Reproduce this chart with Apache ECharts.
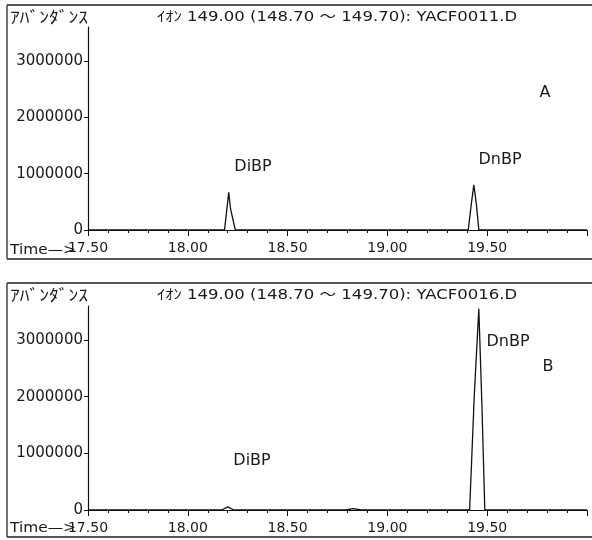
<!DOCTYPE html>
<html>
<head>
<meta charset="utf-8">
<script src="https://cdn.jsdelivr.net/npm/echarts@6/dist/echarts.min.js"></script>
<style>
  html, body { margin: 0; padding: 0; background: #fff; }
  #chart { width: 592px; height: 540px; }
</style>
</head>
<body>
<div id="chart"></div>
<script>
// Panel A: ion 149 trace of YACF0011.D
const timesA = [17.50, 18.184, 18.196, 18.205, 18.214, 18.238, 19.405, 19.42, 19.433, 19.446, 19.458, 20.00];
const abundA = [0, 0, 380000, 670000, 380000, 0, 0, 450000, 800000, 450000, 0, 0];

// Panel B: ion 149 trace of YACF0016.D
const timesB = [17.50, 18.17, 18.20, 18.23, 18.79, 18.83, 18.87, 19.412, 19.435, 19.458, 19.474, 19.488, 20.00];
const abundB = [0, 0, 55000, 0, 0, 25000, 0, 0, 2000000, 3550000, 1800000, 0, 0];

const xTicks = ['17.50', '18.00', '18.50', '19.00', '19.50'];
const yTicks = ['0', '1000000', '2000000', '3000000'];

const panelTitles = ['ｲｵﾝ 149.00 (148.70 ～ 149.70): YACF0011.D', 'ｲｵﾝ 149.00 (148.70 ～ 149.70): YACF0016.D'];
const peakLabels = [
  [{ text: 'DiBP', x: 253, y: 167 }, { text: 'DnBP', x: 500, y: 160 }, { text: 'A', x: 545, y: 93 }],
  [{ text: 'DiBP', x: 252, y: 461 }, { text: 'DnBP', x: 508, y: 342 }, { text: 'B', x: 548, y: 367 }]
];

const font = 'DejaVu Sans';
const jpFont = '"Noto Sans CJK JP", "DejaVu Sans"';

function makeX(gridIndex) {
  return {
    type: 'value',
    gridIndex: gridIndex,
    min: 17.5,
    max: 20.0,
    interval: 0.5,
    axisLine: { onZero: false, lineStyle: { color: '#111', width: 1.2 } },
    axisTick: { length: 6, lineStyle: { color: '#111' } },
    minorTick: { show: true, splitNumber: 5, length: 3, lineStyle: { color: '#111' } },
    splitLine: { show: false },
    axisLabel: {
      margin: 11,
      color: '#1a1a1a',
      fontFamily: font,
      fontSize: 14,
      showMaxLabel: false,
      formatter: v => xTicks[Math.round((v - 17.5) / 0.5)] || ''
    }
  };
}

function makeY(gridIndex) {
  return {
    type: 'value',
    gridIndex: gridIndex,
    min: 0,
    max: 3600000,
    interval: 1000000,
    axisLine: { show: true, lineStyle: { color: '#111', width: 1.2 } },
    axisTick: { show: true, length: 4, lineStyle: { color: '#111' } },
    splitLine: { show: false },
    axisLabel: {
      margin: 5,
      color: '#1a1a1a',
      fontFamily: font,
      fontSize: 15,
      showMaxLabel: false,
      formatter: v => yTicks[Math.round(v / 1000000)] || ''
    }
  };
}

function makeSeries(idx, times, abund) {
  return {
    type: 'line',
    xAxisIndex: idx,
    yAxisIndex: idx,
    data: times.map((t, i) => [t, abund[i]]),
    showSymbol: false,
    lineStyle: { color: '#111', width: 1.3 },
    silent: true
  };
}

// frame lines, headers and peak annotations
const graphics = [];
[[5, 259], [283, 537]].forEach(([top, bottom], p) => {
  graphics.push({ type: 'line', shape: { x1: 7, y1: top, x2: 592, y2: top }, style: { stroke: '#555', lineWidth: 2 } });
  graphics.push({ type: 'line', shape: { x1: 7, y1: top, x2: 7, y2: bottom }, style: { stroke: '#444', lineWidth: 1.5 } });
  graphics.push({ type: 'line', shape: { x1: 7, y1: bottom, x2: 592, y2: bottom }, style: { stroke: '#555', lineWidth: 2 } });
  graphics.push({
    type: 'text', x: 10, y: top + 12, scaleX: 1.22,
    style: { text: 'ｱﾊﾞﾝﾀﾞﾝｽ', font: '16px ' + jpFont, fill: '#1a1a1a', textVerticalAlign: 'middle' }
  });
  graphics.push({
    type: 'text', x: 157, y: top + 12, scaleX: 1.18,
    style: { text: panelTitles[p], font: '14px "DejaVu Sans", "Noto Sans CJK JP"', fill: '#1a1a1a', textVerticalAlign: 'middle' }
  });
  graphics.push({
    type: 'text', x: 10, y: bottom - 9, scaleX: 1.1,
    style: { text: 'Time—>', font: '14px ' + font, fill: '#1a1a1a', textVerticalAlign: 'middle' }
  });
  peakLabels[p].forEach(l => {
    graphics.push({
      type: 'text', x: l.x, y: l.y,
      style: { text: l.text, font: '16px ' + font, fill: '#1a1a1a', textAlign: 'center', textVerticalAlign: 'middle' }
    });
  });
});

const chart = echarts.init(document.getElementById('chart'), null, { renderer: 'canvas' });
chart.setOption({
  animation: false,
  backgroundColor: '#fff',
  grid: [
    { left: 88, right: 5, top: 27, height: 203 },
    { left: 88, right: 5, top: 306, height: 204 }
  ],
  xAxis: [makeX(0), makeX(1)],
  yAxis: [makeY(0), makeY(1)],
  series: [makeSeries(0, timesA, abundA), makeSeries(1, timesB, abundB)],
  graphic: graphics
});
</script>
</body>
</html>
